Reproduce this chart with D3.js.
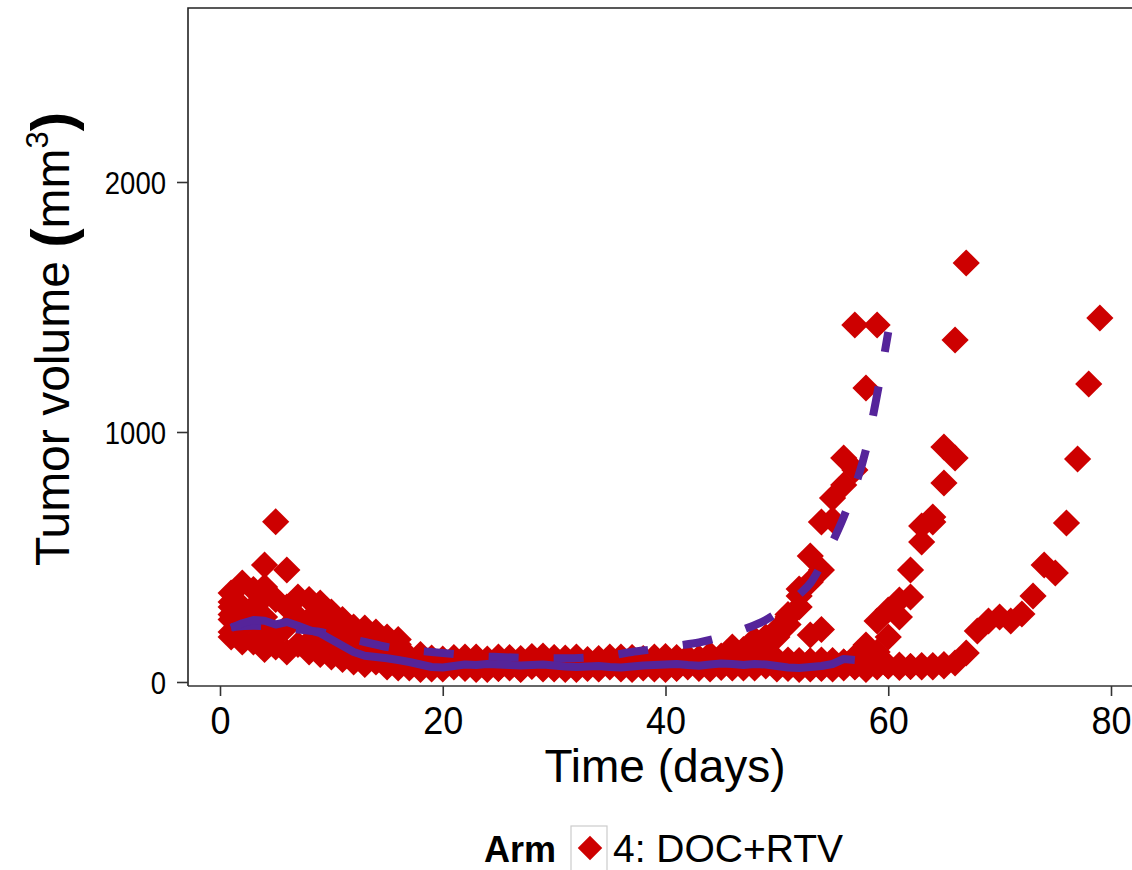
<!DOCTYPE html>
<html lang="en">
<head>
<meta charset="UTF-8">
<title>Tumor volume</title>
<style>
  body { margin: 0; background: #fff; }
  svg text { font-family: "Liberation Sans", Arial, sans-serif; fill: #000; }
</style>
</head>
<body>
<div id="chart"></div>
<script src="https://d3js.org/d3.v7.min.js"></script>
<script>
// ---- data ----
// three measuring schedules for the bulk of the animals
const daysA = [1,3,5,8,10,12,15,17,19,22,24,26,29,31,33,36,38,40,43,45,47,50,52,54,57];
const daysB = [2,4,6,9,11,13,16,18,20,23,25,27,30,32,34,37,39,41,44,46,48,51,53,55,58];
const daysC = [1,4,7,9,11,14,16,18,21,23,25,28,30,32,35,37,39,42,44,46,49,51,53,56,58];

const a1 = [356,370,641,330,280,220,180,100,96,100,92,98,104,96,90,100,94,102,96,104,98,90,86,88,84];
const a2 = [270,300,330,250,200,160,120,80,76,82,78,74,80,76,72,78,80,76,82,86,80,74,70,72,76];
const a3 = [180,160,140,120,100,80,60,56,52,54,50,56,52,50,54,52,56,50,54,58,56,52,50,54,60];
const a4 = [300,250,180,160,130,100,80,68,64,62,66,64,60,62,64,62,66,64,66,68,64,62,60,62,64];

const b1 = [396,468,448,316,250,216,170,96,92,100,96,94,98,100,94,96,100,98,104,120,130,88,84,86,80];
const b2 = [300,340,300,240,200,180,130,80,78,74,80,78,76,72,78,74,78,80,76,100,110,72,70,74,70];
const b3 = [220,200,220,180,130,100,80,60,56,58,54,52,56,58,52,54,58,56,60,58,56,54,52,56,54];
const b4 = [160,130,120,110,90,70,56,50,52,50,54,50,52,50,54,50,52,54,52,56,60,58,56,52,50];

const c1 = [320,380,340,280,230,200,150,110,98,96,100,102,96,94,100,98,96,100,104,130,164,80,84,80,78];
const c2 = [250,260,260,220,170,140,110,76,80,84,82,80,84,82,80,84,82,78,86,90,100,70,72,76,72];
const c3 = [200,170,150,130,110,80,64,58,60,56,58,62,58,56,60,62,58,60,62,66,64,60,58,62,60];

// animals that regrow
const grA1Days = [44,46,48,50,51,52,53,54,55,56,57];
const grA1 = [110,140,170,210,260,344,504,640,736,896,1428];
const grA2Days = [45,47,49,50,51,52,53,54,55,56,57,58,59];
const grA2 = [100,130,150,180,230,372,400,448,648,788,848,1176,1428];
const grA3Days = [46,48,49,50,51,52,53,54];
const grA3 = [120,150,180,200,270,300,188,210];
const grB1Days = [56,57,58,59,60,61,62,63,64,65,66,67];
const grB1 = [80,100,148,244,288,328,448,560,660,940,1368,1676];
const grB2Days = [54,55,56,57,58,59,60,61,62,63,64,65,66];
const grB2 = [60,64,70,76,90,120,180,260,340,624,640,796,896];
const grCDays = [54,55,56,57,58,59,60,61,62,63,64,65,66,67,68,69,70,71,72,73,74,75,76,77,78,79];
const grC = [58,60,56,62,58,60,64,58,62,60,66,70,76,116,204,244,260,244,272,344,468,436,636,892,1192,1456];
const grDDays = [57,58,59,60,61,62,63,64,65];
const grD = [66,62,70,64,68,62,66,60,64];

// observed summary (solid) and model prediction (dashed)
const meanDays = [1,2,3,4,5,6,7,8,9,10,11,12,13,14,15,16,17,18,19,20,21,22,23,24,25,26,27,28,29,30,31,32,33,34,35,36,37,38,39,40,41,42,43,44,45,46,47,48,49,50,51,52,53,54,55,56,57];
const meanVol = [216,235,248,245,230,240,225,208,195,170,145,120,105,100,95,88,80,70,60,58,64,70,68,72,70,68,66,68,70,66,62,60,62,64,60,58,62,66,68,70,72,68,65,70,74,72,68,72,70,64,58,56,60,64,72,92,88];
const predDays = [1,3,5,7,9,11,13,15,17,19,21,23,25,27,29,31,33,35,37,39,41,43,45,47,49,51,52,53,54,55,56,57,58,59,60];
const predVol = [220,225,220,210,200,180,160,140,128,120,112,104,100,97,95,95,98,106,120,132,145,158,180,210,248,310,350,395,470,560,660,780,930,1150,1400];

const xTicks = [0,20,40,60,80];
const yTicks = [0,1000,2000];
const armLabel = "4: DOC+RTV";

// ---- layout ----
const W = 1132, H = 870;
const panelL = 188, panelT = 8, panelB = 686, panelR = 1152;

const x = d3.scaleLinear().domain([0, 80]).range([220, 1111]);
const y = d3.scaleLinear().domain([0, 2000]).range([682, 182]);

const red = "#CD0000", purple = "#55249A";

const svg = d3.select("#chart").append("svg")
  .attr("width", W).attr("height", H);

// points
const groups = [
  [daysA, a1], [daysA, a2], [daysA, a3], [daysA, a4],
  [daysB, b1], [daysB, b2], [daysB, b3], [daysB, b4],
  [daysC, c1], [daysC, c2], [daysC, c3],
  [grA1Days, grA1], [grA2Days, grA2], [grA3Days, grA3],
  [grB1Days, grB1], [grB2Days, grB2], [grCDays, grC], [grDDays, grD]
];
const points = [];
groups.forEach(([ds, vs]) => vs.forEach((v, i) => points.push([ds[i], v])));

const diamond = d3.symbol(d3.symbolSquare, 370);
svg.append("g").selectAll("path")
  .data(points)
  .enter().append("path")
  .attr("d", diamond)
  .attr("fill", red)
  .attr("transform", d => `translate(${x(d[0])},${y(d[1])}) rotate(45)`);

// lines
const line = d3.line().x(d => x(d[0])).y(d => y(d[1]));
svg.append("path")
  .datum(predDays.map((d, i) => [d, predVol[i]]))
  .attr("d", line.curve(d3.curveMonotoneX))
  .attr("fill", "none").attr("stroke", purple)
  .attr("stroke-width", 8).attr("stroke-dasharray", "30,35");
svg.append("path")
  .datum(meanDays.map((d, i) => [d, meanVol[i]]))
  .attr("d", line.curve(d3.curveLinear))
  .attr("fill", "none").attr("stroke", purple)
  .attr("stroke-width", 8).attr("stroke-linejoin", "round");

// panel border and axes
svg.append("path")
  .attr("d", `M${panelL},${panelB}V${panelT}H${panelR}`)
  .attr("fill", "none").attr("stroke", "#222").attr("stroke-width", 1.6);

const xAxis = svg.append("g").attr("transform", `translate(0,${panelB})`)
  .call(d3.axisBottom(x).tickValues(xTicks).tickSize(10).tickSizeOuter(0));
xAxis.select(".domain").attr("d", `M${panelL},0H${panelR}`).attr("stroke", "#333").attr("stroke-width", 1.6);
xAxis.selectAll(".tick line").attr("stroke", "#333").attr("stroke-width", 1.6);
xAxis.selectAll(".tick text")
  .attr("y", 0).attr("dy", 0)
  .attr("transform", "translate(0,48) scale(1,1.08)")
  .attr("font-size", 36).attr("fill", "#000")
  .attr("font-family", "Liberation Sans, Arial, sans-serif");

const yAxis = svg.append("g").attr("transform", `translate(${panelL},0)`)
  .call(d3.axisLeft(y).tickValues(yTicks).tickFormat(d3.format("d"))
    .tickSize(11).tickPadding(11).tickSizeOuter(0));
yAxis.select(".domain").remove();
yAxis.selectAll(".tick line").attr("stroke", "#333").attr("stroke-width", 1.6);
yAxis.selectAll(".tick text")
  .attr("x", 0).attr("dy", "0.35em")
  .attr("transform", "translate(-22,0) scale(0.86,1)")
  .attr("font-size", 32).attr("fill", "#000")
  .attr("font-family", "Liberation Sans, Arial, sans-serif");

// axis titles
svg.append("text")
  .attr("x", 665).attr("y", 782)
  .attr("text-anchor", "middle").attr("font-size", 46)
  .text("Time (days)");

const yt = svg.append("text")
  .attr("transform", "translate(69,339) rotate(-90)")
  .attr("text-anchor", "middle").attr("font-size", 48);
yt.append("tspan").text("Tumor volume ");
yt.append("tspan").attr("font-size", 58).attr("font-weight", "bold").attr("dy", 3).text("(");
yt.append("tspan").attr("dy", -3).text("mm");
yt.append("tspan").attr("font-size", 31).attr("dy", -21).text("3");
yt.append("tspan").attr("font-size", 58).attr("font-weight", "bold").attr("dy", 24).text(")");

// legend
const lg = svg.append("g");
lg.append("text").attr("x", 484).attr("y", 862)
  .attr("font-size", 36).attr("font-weight", "bold").text("Arm");
lg.append("rect").attr("x", 571).attr("y", 826).attr("width", 36).attr("height", 50)
  .attr("fill", "#fff").attr("stroke", "#ccc").attr("stroke-width", 1.2);
lg.append("path").attr("d", d3.symbol(d3.symbolSquare, 300))
  .attr("fill", red).attr("transform", "translate(590,848) rotate(45)");
lg.append("text").attr("x", 613).attr("y", 862)
  .attr("font-size", 39).text(armLabel);
</script>
</body>
</html>
